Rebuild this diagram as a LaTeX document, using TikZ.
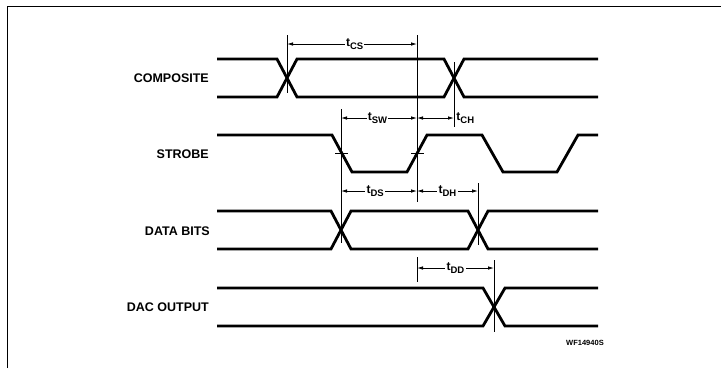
\documentclass[tikz,border=0pt]{standalone}
\usepackage{fontspec}
\setmainfont{Liberation Sans}
\usetikzlibrary{arrows.meta,positioning}

\newcommand{\tsub}[1]{t\raisebox{-0.45ex}{\fontsize{9.5}{10}\selectfont #1}}

\begin{document}
\begin{tikzpicture}[x=1pt, y=-1pt,
    wave/.style={line width=2.8pt, line join=miter},
    guide/.style={line width=0.9pt},
    dim/.style={{Latex[length=6pt,width=3.5pt]}-{Latex[length=6pt,width=3.5pt]}, line width=0.8pt},
    sig/.style={font=\bfseries\fontsize{12.5}{14}\selectfont, anchor=east, inner sep=0pt},
    tlab/.style={font=\bfseries\fontsize{12}{13}\selectfont, fill=white, inner sep=1.2pt}
]
    \useasboundingbox (0,0) rectangle (721,368);

    % Frame
    \draw[line width=1pt] (7,368) -- (7,6) -- (721,6);

    % Signal names
    \node[sig] (ncomp) at (209,78) {COMPOSITE};
    \node[sig] (nstrb) at (209,154) {STROBE};
    \node[sig] (ndata) at (210,231) {DATA BITS};
    \node[sig] (ndac) at (209,307) {DAC OUTPUT};

    % Waveforms
    \draw[wave] (217,59) -- (277,59) -- (297,97) -- (444,97) -- (464,59) -- (598,59);
    \draw[wave] (217,97) -- (277,97) -- (297,59) -- (444,59) -- (464,97) -- (598,97);
    \draw[wave] (217,135) -- (332,135) -- (352,172) -- (407,172) -- (427,135) -- (482,135)
        -- (503,172) -- (557,172) -- (578,135) -- (598,135);
    \draw[wave] (217,211) -- (331,211) -- (351,249) -- (468,249) -- (488,211) -- (598,211);
    \draw[wave] (217,249) -- (331,249) -- (351,211) -- (468,211) -- (488,249) -- (598,249);
    \draw[wave] (217,288) -- (483,288) -- (505,326) -- (598,326);
    \draw[wave] (217,326) -- (483,326) -- (505,288) -- (598,288);

    % Reference lines
    \draw[guide] (287,35) -- (287,93);
    \draw[guide] (417,35) -- (417,202);
    \draw[guide] (454,62) -- (454,127);
    \draw[guide] (341,109) -- (341,243);
    \draw[guide] (478,183) -- (478,245);
    \draw[guide] (417,257) -- (417,282);
    \draw[guide] (494,260) -- (494,332);
    \draw[guide] (335,153) -- (348,153);
    \draw[guide] (411,153) -- (424,153);

    % Timing points
    \coordinate (cs1) at (287,44);
    \coordinate (cs2) at (417,44);
    \coordinate (sw1) at (341,118);
    \coordinate (sw2) at (417,118);
    \coordinate (ch2) at (454,118);
    \coordinate (ds1) at (341,191);
    \coordinate (ds2) at (417,191);
    \coordinate (dh2) at (478,191);
    \coordinate (dd1) at (417,268);
    \coordinate (dd2) at (494,268);

    % Timing intervals
    \draw[dim] (cs1) -- node[tlab, pos=0.52] (tcs) {\tsub{CS}} (cs2);
    \draw[dim] (sw1) -- node[tlab, pos=0.48] (tsw) {\tsub{SW}} (sw2);
    \draw[dim] (sw2) -- (ch2);
    \node[tlab, right=1pt of ch2] (tch) {\tsub{CH}};
    \draw[dim] (ds1) -- node[tlab, pos=0.45] (tds) {\tsub{DS}} (ds2);
    \draw[dim] (ds2) -- node[tlab, pos=0.5] (tdh) {\tsub{DH}} (dh2);
    \draw[dim] (dd1) -- node[tlab, pos=0.5] (tdd) {\tsub{DD}} (dd2);

    \node[font=\bfseries\fontsize{7.5}{9}\selectfont, inner sep=0pt] (wf) at (585,343) {WF14940S};
\end{tikzpicture}
\end{document}
